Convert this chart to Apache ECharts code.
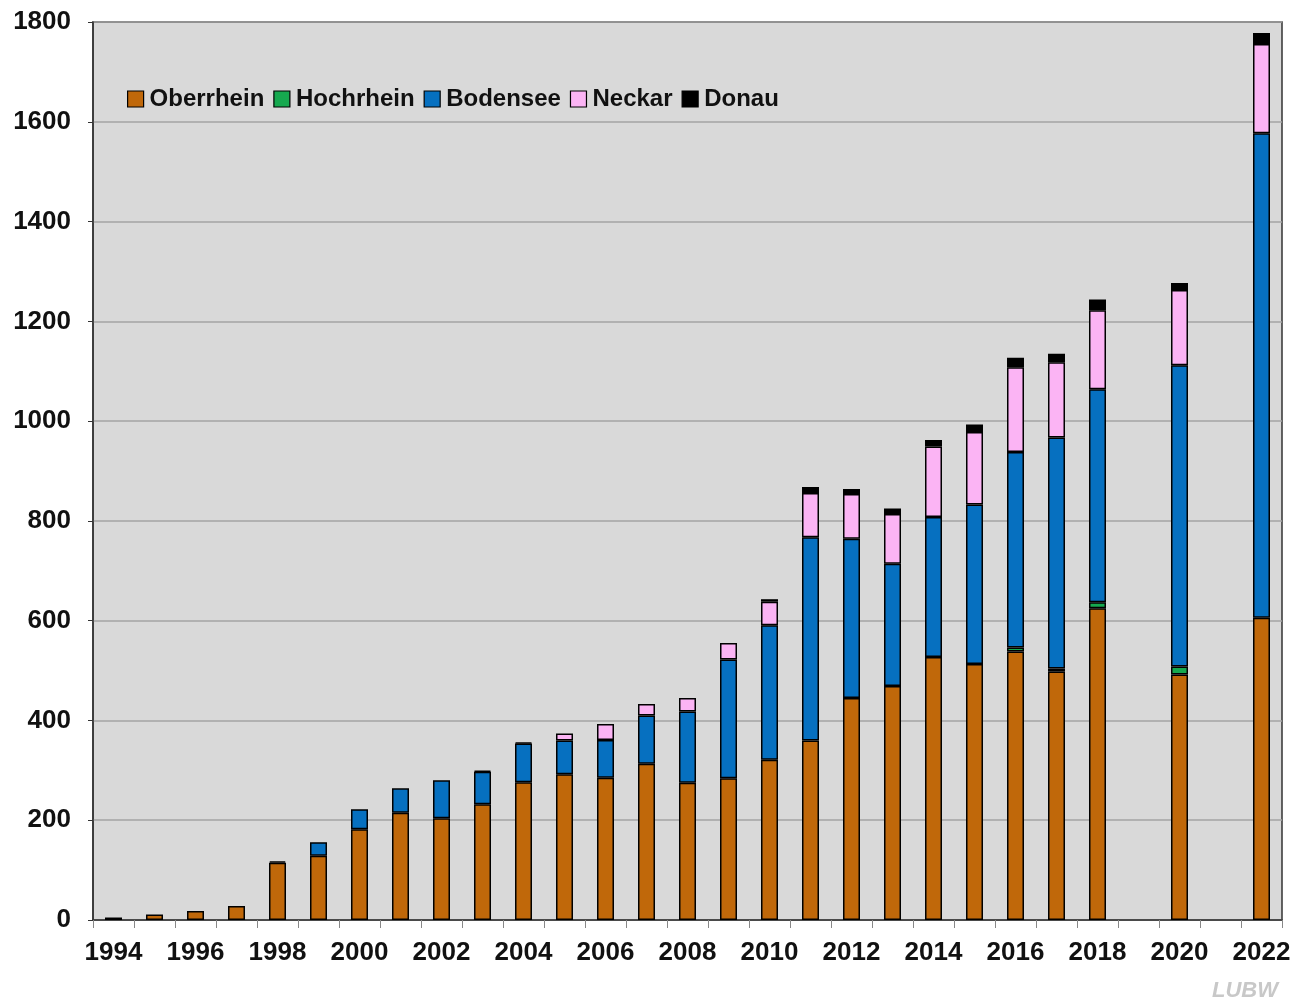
<!DOCTYPE html>
<html>
<head>
<meta charset="utf-8">
<script src="https://cdn.jsdelivr.net/npm/echarts@6/dist/echarts.min.js"></script>
<style>
html,body{margin:0;padding:0;background:#fff;}
#chart{width:1306px;height:1006px;}
</style>
</head>
<body>
<div id="chart"></div>
<script>
const years = ['1994','1995','1996','1997','1998','1999','2000','2001','2002','2003','2004','2005','2006','2007','2008','2009','2010','2011','2012','2013','2014','2015','2016','2017','2018','2019','2020','2021','2022'];
const oberrhein = [5,11,18,28,115,129,182,215,204,232,276,292,285,313,275,284,321,360,445,469,527,513,538,498,625,null,492,null,606];
const hochrhein = [0,0,0,0,0,0,0,0,0,0,0,0,0,0,0,0,0,0,0,0,0,0,8,6,12,null,16,null,0];
const bodensee  = [0,0,0,0,0,27,40,49,76,65,78,68,76,97,143,238,270,407,319,245,281,320,392,463,427,null,604,null,971];
const neckar    = [0,0,0,0,0,0,0,0,0,0,0,14,32,23,27,33,47,89,90,100,141,145,170,151,158,null,151,null,179];
const donau     = [0,0,0,0,3,0,0,0,0,2,2,0,0,0,0,0,5,12,10,11,13,15,19,17,22,null,14,null,22];
const yTicks = [0,200,400,600,800,1000,1200,1400,1600,1800];

const seriesDefs = [
  ['Oberrhein', oberrhein, '#c0680a'],
  ['Hochrhein', hochrhein, '#16a94f'],
  ['Bodensee', bodensee, '#0670c0'],
  ['Neckar', neckar, '#fbb4f4'],
  ['Donau', donau, '#000000']
];

const chart = echarts.init(document.getElementById('chart'), null, {renderer:'canvas'});
const fontFam = '"Liberation Sans", Arial, sans-serif';
chart.setOption({
  backgroundColor: '#ffffff',
  animation: false,
  grid: {left: 93, right: 24, top: 22, bottom: 86, show: true, backgroundColor: '#d9d9d9', borderColor: '#333333', borderWidth: 1.5},
  legend: {
    left: 122, top: 82, itemWidth: 16, itemHeight: 16, itemGap: 9,
    icon: 'rect',
    textStyle: {fontFamily: fontFam, fontWeight: 'bold', fontSize: 24, color: '#111', padding: [2,0,0,1]},
    itemStyle: {borderColor: '#000', borderWidth: 1.2},
    data: seriesDefs.map(s => s[0])
  },
  xAxis: {
    type: 'category', data: years,
    axisLine: {lineStyle: {color: '#333', width: 1.5}},
    axisTick: {show: true, interval: 0, length: 8, lineStyle: {color: '#888', width: 1}},
    axisLabel: {interval: 1, margin: 20, fontFamily: fontFam, fontWeight: 'bold', fontSize: 26, color: '#111'}
  },
  yAxis: {
    type: 'value', min: 0, max: 1800, interval: 200,
    axisLine: {show: true, lineStyle: {color: '#333', width: 1.5}},
    axisTick: {show: true, length: 5, lineStyle: {color: '#333'}},
    splitLine: {lineStyle: {color: '#a3a3a3', width: 1.5}},
    axisLabel: {margin: 22, fontFamily: fontFam, fontWeight: 'bold', fontSize: 26, color: '#111',
      formatter: v => yTicks.includes(v) ? String(v) : ''}
  },
  series: seriesDefs.map(s => ({
    name: s[0], type: 'bar', stack: 'total', barWidth: 17,
    data: s[1].map(v => v === 0 ? null : v),
    itemStyle: {color: s[2], borderColor: '#000', borderWidth: 1.5}
  })),
  graphic: [{
    type: 'text', right: 28, bottom: 4,
    style: {text: 'LUBW', fontFamily: fontFam, fontStyle: 'italic', fontWeight: 'bold', fontSize: 22, fill: '#c8c8c8'}
  }]
});
</script>
</body>
</html>
